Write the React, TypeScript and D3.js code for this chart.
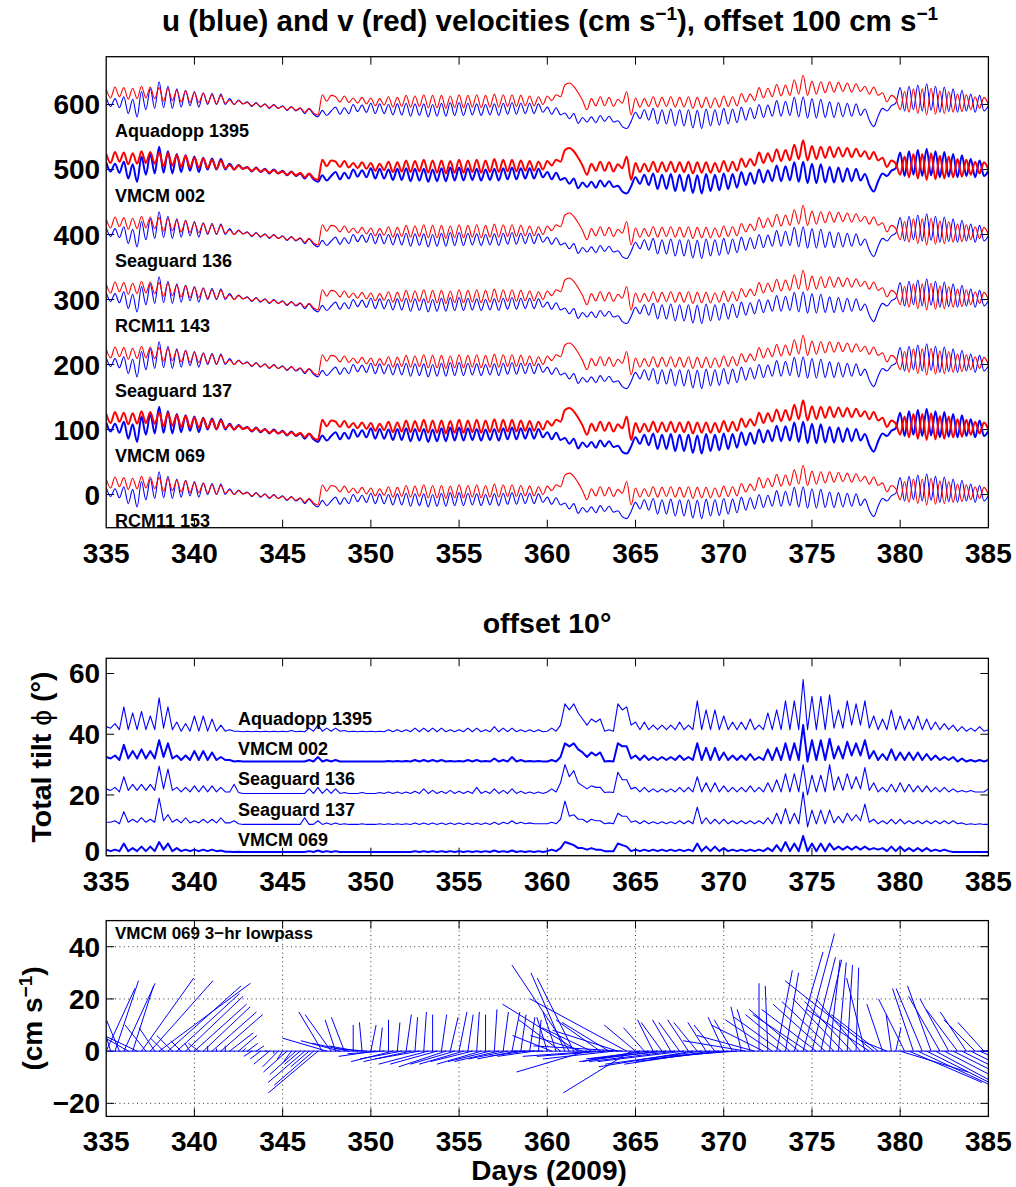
import React from 'react';
import * as d3 from 'd3';

const DAY0 = 335;
const STEP = 0.25;

// u (blue) velocity, cm/s, every 6 h from day 335 to 385
const U = [
  11, -3, 9, -5, 12, -14, 8, -19, 20, -8, 24, -6, 35, -5, 28, -6, 24, -4, 22, -2,
  20, -4, 18, 0, 17, 0, 16, 0, 9, 0, 7, 1, 4, -3, 3, -4, 1, -6, 0, -6,
  -2, -9, -3, -10, -6, -14, -7, -15, -19, -9, -17, -10, -4, -15, -5, -14, 0, -11, -1, -12,
  2, -14, 1, -14, 0, -16, 1, -16, 2, -18, 1, -17, 1, -19, 0, -18, 2, -18, 3, -17,
  3, -17, 2, -16, 1, -17, 0, -16, 1, -17, 2, -15, 3, -15, 2, -14, 2, -14, 1, -12,
  -4, -15, -5, -16, -13, -22, -14, -29, -20, -27, -19, -28, -17, -26, -18, -27, -25, -34, -37, -26,
  -12, -22, -8, -24, -6, -30, -8, -30, -7, -33, -8, -33, -8, -36, -9, -37, -7, -33, -8, -32,
  -6, -30, -7, -28, -4, -24, -5, -22, 0, -20, -1, -18, 6, -18, 5, -17, 11, -19, 12, -21,
  9, -21, 8, -20, 4, -20, 3, -19, 2, -18, 1, -17, -7, -24, -34, -18, -6, -10, -2, 2,
  26, -10, 28, -8, 30, -10, 32, -9, 28, -12, 27, -11, 24, -12, 22, -10, 16, -12, 14, -10,
  -2,
];

// v (red) velocity, cm/s, same times
const V = [
  24, 10, 27, 12, 26, 8, 25, 9, 28, 10, 27, 9, 26, 5, 25, 6, 22, 4, 21, 3,
  18, 3, 17, 2, 15, 1, 14, 2, 7, 0, 6, 1, 3, -2, 2, -3, 0, -5, -1, -6,
  -3, -8, -4, -9, -5, -12, -6, -13, -16, 15, 5, 14, 12, 4, 13, 3, 10, 2, 11, 1,
  10, -2, 9, -1, 12, -4, 11, -3, 14, -4, 13, -3, 15, -5, 14, -5, 14, -6, 13, -5,
  15, -5, 14, -4, 15, -5, 14, -4, 16, -4, 15, -3, 15, -3, 14, -2, 13, -2, 12, 0,
  13, 6, 15, 12, 30, 33, 28, 18, 6, -8, 9, -2, 12, -2, 11, -3, 8, 2, 20, -16,
  10, -4, 9, -3, 12, -4, 11, -3, 12, -4, 11, -4, 12, -6, 11, -5, 11, -5, 10, -4,
  13, -3, 12, -2, 17, 4, 16, 6, 26, 10, 25, 12, 31, 13, 30, 14, 38, 16, 45, 14,
  36, 16, 35, 18, 35, 19, 34, 20, 33, 19, 32, 20, 28, 16, 27, 14, 18, 4, 14, 9,
  -8, 20, -12, 24, -14, 24, -16, 25, -15, 21, -14, 20, -12, 16, -11, 15, -8, 12, -6, 11,
  0,
];

const VEL_NAMES = ['Aquadopp 1395', 'VMCM 002', 'Seaguard 136', 'RCM11 143', 'Seaguard 137', 'VMCM 069', 'RCM11 153'];
const VEL_OFFSETS = [600, 500, 400, 300, 200, 100, 0];
const VEL_HEAVY = [false, true, false, false, false, true, false];

// total tilt (deg), without offset, every 6 h
const TILT_AQUADOPP_1395 = [
  2.5, 2, 3.5, 1.5, 9, 1.5, 7, 1.5, 7.5, 1.5, 6, 1.5, 12, 2, 9, 1.5, 4, 1, 3.5, 1,
  6, 1, 6, 1, 5, 1, 3, 1, 1.5, 1, 1, 0.8, 1, 0.8, 1, 0.8, 1, 0.8, 1, 0.8,
  1, 0.8, 1.2, 0.8, 1, 0.8, 2, 1, 3, 1, 2, 1, 2, 1, 1.2, 0.8, 1, 0.8, 1, 0.8,
  1, 0.8, 1, 0.8, 1.5, 0.8, 1.5, 0.8, 1.5, 0.8, 2, 0.8, 2, 0.8, 2, 0.8, 2, 0.8, 1.5, 0.8,
  1.5, 0.8, 2, 0.8, 2, 0.8, 1.5, 0.8, 2.5, 0.8, 2, 0.8, 2, 0.8, 1.5, 0.8, 1.5, 0.8, 1.5, 0.8,
  1, 2, 1, 3, 10, 8, 10, 7, 5, 3, 5, 4, 5, 1, 1.5, 1, 10, 8, 9, 3,
  4, 1.5, 4, 1.5, 3, 1.5, 3, 1.5, 3, 1.5, 4, 1.5, 3, 1.5, 11, 1.5, 8, 1.5, 8, 1.5,
  6, 1.5, 4, 1.5, 4, 1.5, 5, 1.5, 3, 1.5, 7, 1.5, 8, 1.5, 11, 1.5, 11, 1.5, 18, 1.5,
  12.5, 1.5, 12.5, 1.5, 13, 2, 8, 2, 11, 3, 10, 3, 11, 2, 6, 1.5, 5, 1.5, 8, 1.5,
  6, 1.5, 5, 1.5, 6, 1.5, 5, 1.5, 4, 1.5, 3.5, 1.5, 3, 1, 2.5, 1, 2, 1, 2.5, 1,
  1.5,
];
const TILT_VMCM_002 = [
  2.5, 2, 3, 1.5, 6.5, 2, 4.5, 2, 5, 2, 4.5, 2, 8, 2.5, 7, 2, 3, 1.5, 3, 1.5,
  4.5, 1.5, 4.5, 1.5, 4, 1.5, 2.5, 1.5, 1.5, 1, 1.2, 1, 1, 1, 1, 1, 1, 1, 1, 1,
  1, 1, 1, 1, 1, 1, 1.5, 1, 2.5, 1, 1.5, 1, 1.5, 1, 1, 1, 1, 1, 1, 1,
  1, 1, 1, 1, 1.2, 1, 1.2, 1, 1.2, 1, 1.5, 1, 1.5, 1, 1.5, 1, 1.5, 1, 1.2, 1,
  1.2, 1, 1.5, 1, 1.5, 1, 1.2, 1, 2, 1, 1.5, 1, 2.5, 1, 1.5, 1, 1.2, 1, 1.2, 1,
  1, 1.5, 1, 2.5, 7, 6, 7, 5, 4, 2.5, 4, 3, 4, 1, 1.2, 1, 7, 6, 6, 2,
  3, 1.5, 3, 1.5, 2.5, 1.5, 2.5, 1.5, 2.5, 1.5, 3, 1.5, 2.5, 1.5, 7, 1.5, 5.5, 1.5, 5.5, 1.5,
  4, 1.5, 3, 1.5, 3, 1.5, 3.5, 1.5, 2.5, 1.5, 5, 1.5, 5.5, 1.5, 7, 1.5, 7, 1.5, 13, 1,
  8, 1.5, 8, 1.5, 8.5, 2, 6, 2, 7.5, 3, 7, 3, 8, 2, 4.5, 1.5, 3.5, 1.5, 5, 1.5,
  4, 1.5, 4, 1.5, 4, 1.5, 3.5, 1.5, 3, 1.5, 2.5, 1.5, 2.5, 1, 2, 1, 1.5, 1, 1.5, 1,
  1.5,
];
const TILT_SEAGUARD_136 = [
  2, 1.5, 2.5, 1, 6, 1.5, 3.5, 1.5, 3.5, 1.5, 3.5, 1.5, 9.5, 2, 8.5, 1.5, 2.5, 1, 2.5, 1,
  3, 1, 3, 1, 3, 1, 2.5, 1, 1, 3.5, 0.8, 0.5, 0.5, 0.5, 0.5, 0.5, 0.5, 0.5, 0.5, 0.5,
  0.5, 0.5, 0.5, 0.5, 0.5, 0.5, 2, 0.5, 2.5, 0.5, 2, 0.5, 2, 0.5, 0.8, 0.5, 0.5, 0.5, 0.8, 0.5,
  0.5, 0.5, 0.8, 0.5, 1, 0.5, 1, 0.5, 1, 0.5, 1.2, 0.5, 2, 0.5, 1.5, 0.5, 1.2, 0.5, 1.5, 0.5,
  1.2, 0.5, 1.2, 0.5, 2.5, 0.5, 1.2, 0.5, 2, 0.5, 1.5, 0.5, 2, 0.5, 1.2, 0.5, 1, 0.5, 1, 0.5,
  1, 2, 1, 4, 10, 6, 8, 4, 3, 2, 3, 2.5, 2.5, 0.8, 1, 0.8, 7.5, 5, 5, 2,
  2.5, 1, 2.5, 1, 2, 1, 2, 1, 2, 1, 2.5, 1, 2.5, 1, 6, 1, 4, 1, 4, 1,
  3, 1, 2.5, 1, 2.5, 1, 3, 1, 2.5, 1, 4, 1, 5, 1, 7, 1, 7, 1, 10, 0,
  6.5, 1, 6.5, 1, 10, 1.5, 6, 1.5, 7, 2, 6, 2, 9, 1.5, 4, 1, 2.5, 1, 3.5, 1,
  4, 1, 3.5, 1, 3, 1, 3, 1, 2.5, 1, 2.5, 1, 2, 1, 1.5, 1, 1.5, 1, 1, 1,
  2,
];
const TILT_SEAGUARD_137 = [
  1, 1, 1.5, 0.5, 4.5, 1, 2, 1, 2.5, 1, 2, 1, 9, 1.5, 3.5, 1, 2, 0.8, 2.5, 0.8,
  1.5, 0.8, 2, 0.8, 2, 0.8, 2.5, 0.8, 0.8, 1.5, 0.5, 0.3, 0.3, 0.3, 0.3, 0.3, 0.3, 0.3, 0.3, 0.3,
  0.3, 0.3, 0.3, 0.3, 0.3, 2.5, 0.3, 0.3, 1.5, 0.3, 0.8, 0.3, 0.8, 0.3, 0.5, 0.3, 0.3, 0.3, 0.5, 0.3,
  0.3, 0.3, 0.5, 0.3, 0.5, 0.3, 0.5, 0.3, 0.5, 0.3, 0.8, 0.3, 0.8, 0.3, 0.8, 0.3, 0.8, 0.3, 0.8, 0.3,
  0.8, 0.3, 0.8, 0.3, 0.8, 0.3, 0.8, 0.3, 1, 0.3, 1, 0.5, 1.5, 0.5, 1, 0.5, 0.8, 0.5, 0.5, 0.5,
  0.5, 1, 0.5, 2, 8, 3, 3.5, 2, 2, 1, 2, 1.5, 1.5, 0.5, 0.8, 0.5, 4, 3, 3, 1,
  1.5, 0.5, 1.5, 0.5, 1.2, 0.5, 1.2, 0.5, 1.2, 0.5, 1.5, 0.5, 1.5, 0.5, 6, 0.5, 2.5, 0.5, 2, 0.5,
  2, 0.5, 1.5, 0.5, 1.5, 0.5, 1.5, 0.5, 1.5, 0.5, 2.5, 0.5, 4, 0.5, 5.5, 0.5, 4, 0.5, 11, -0.5,
  5, 0.5, 5, 0.5, 5, 0.8, 3, 0.8, 4, 1.5, 3.5, 1.5, 7, 1, 2, 0.5, 1.5, 0.5, 2, 0.5,
  2, 0.5, 1.5, 0.5, 1.5, 0.5, 1.5, 0.5, 1.5, 0.5, 1.5, 0.5, 1.5, 0.5, 0.8, 0.3, 0.5, 0.3, 0.5, 0.3,
  0.3,
];
const TILT_VMCM_069 = [
  2, 1.5, 2, 1.5, 4, 1.5, 2.5, 1.5, 3, 1.5, 3, 1.5, 4.5, 2, 4, 1.5, 2.5, 1.5, 2, 1.5,
  2, 1.5, 2, 1.5, 2, 1.5, 1.7, 1.3, 1.3, 1.2, 1.3, 1.2, 1.2, 1.2, 1.2, 1.2, 1.2, 1.2, 1.2, 1.2,
  1.2, 1.2, 1.2, 1.2, 1.2, 1.2, 1.5, 1.2, 1.7, 1.2, 1.5, 1.2, 1.5, 1.2, 1.2, 1.2, 1.2, 1.2, 1.2, 1.2,
  1.2, 1.2, 1.2, 1.2, 1.2, 1.2, 1.2, 1.2, 1.2, 1.2, 1.5, 1.2, 1.5, 1.2, 1.5, 1.2, 1.5, 1.2, 1.5, 1.2,
  1.5, 1.2, 1.5, 1.2, 1.5, 1.2, 1.5, 1.2, 1.7, 1.2, 1.5, 1.2, 1.7, 1.2, 1.5, 1.2, 1.5, 1.2, 1.5, 1.2,
  1.5, 2, 1.5, 2.5, 4.5, 4, 3.5, 2.5, 2.5, 2, 2.5, 2, 2, 1.5, 1.5, 1.5, 4, 3.5, 3, 1.5,
  2, 1.5, 2, 1.5, 2, 1.5, 2, 1.5, 2, 1.5, 2, 1.5, 2, 1.5, 4, 1.5, 3, 1.5, 3, 1.5,
  2.5, 1.5, 2, 1.5, 2, 1.5, 2, 1.5, 2, 1.5, 2.5, 1.5, 3.5, 1.5, 4.5, 1.5, 4, 1.5, 6.5, 1.5,
  4, 1.5, 4, 1.5, 4, 2, 3, 2, 3, 2, 3, 2, 3, 2, 2.5, 2, 2.5, 1.5, 3, 1.5,
  3, 1.5, 2.5, 1.5, 2.5, 1.5, 2.5, 1.5, 2, 1.5, 2, 1.5, 1.2, 1.2, 1.2, 1.2, 1.2, 1.2, 1.2, 1.2,
  1.2,
];

const TILT_SERIES = [TILT_AQUADOPP_1395, TILT_VMCM_002, TILT_SEAGUARD_136, TILT_SEAGUARD_137, TILT_VMCM_069];
const TILT_NAMES = ['Aquadopp 1395', 'VMCM 002', 'Seaguard 136', 'Seaguard 137', 'VMCM 069'];
const TILT_OFFSETS = [40, 30, 20, 10, 0];
const TILT_HEAVY = [false, true, false, false, true];

const X_TICKS = [335, 340, 345, 350, 355, 360, 365, 370, 375, 380, 385];
const VEL_TICKS = [0, 100, 200, 300, 400, 500, 600];
const TILT_TICKS = [0, 20, 40, 60];
const STICK_TICKS = [-20, 0, 20, 40];

const FONT = '"Liberation Sans", Arial, Helvetica, sans-serif';
const BLUE = '#0000ff';
const RED = '#ff0000';

const x = d3.scaleLinear().domain([335, 385]).range([106.2, 988.4]);
const y1 = d3.scaleLinear().domain([-51, 673.5]).range([527.7, 56.7]);
const y2 = d3.scaleLinear().domain([0, 65]).range([855.7, 658.3]);
const y3 = d3.scaleLinear().domain([-25, 50]).range([1116.4, 920.6]);

const tOf = (i: number) => DAY0 + i * STEP;

function Frame({ y, yTicks, id, zeroLift }: { y: d3.ScaleLinear<number, number>; yTicks: number[]; id: string; zeroLift?: number }) {
  const [x0, x1] = x.range();
  const [yb, yt] = y.range();
  const tl = 8;
  return (
    <g>
      <defs>
        <clipPath id={id}>
          <rect x={x0} y={yt} width={x1 - x0} height={yb - yt} />
        </clipPath>
      </defs>
      {X_TICKS.slice(1, -1).map((t) => (
        <g key={'xt' + t}>
          <line x1={x(t)} x2={x(t)} y1={yb} y2={yb - tl} stroke="#000" strokeWidth={1} />
          <line x1={x(t)} x2={x(t)} y1={yt} y2={yt + tl} stroke="#000" strokeWidth={1} />
        </g>
      ))}
      {yTicks.map((v) => (
        <g key={'yt' + v}>
          <line x1={x0} x2={x0 + tl} y1={y(v)} y2={y(v)} stroke="#000" strokeWidth={1} />
          <line x1={x1} x2={x1 - tl} y1={y(v)} y2={y(v)} stroke="#000" strokeWidth={1} />
        </g>
      ))}
      {X_TICKS.map((t) => (
        <text key={'xl' + t} x={x(t)} y={yb + 35} textAnchor="middle" fontSize={28} fontWeight="bold" fontFamily={FONT}>
          {t}
        </text>
      ))}
      {yTicks.map((v) => (
        <text key={'yl' + v} x={x0 - 6} y={y(v) + 10 - (v === 0 && zeroLift ? zeroLift : 0)} textAnchor="end" fontSize={28} fontWeight="bold" fontFamily={FONT}>
          {v < 0 ? '\u2212' + Math.abs(v) : v}
        </text>
      ))}
    </g>
  );
}

function Box({ y }: { y: d3.ScaleLinear<number, number> }) {
  const [x0, x1] = x.range();
  const [yb, yt] = y.range();
  return <rect x={x0} y={yt} width={x1 - x0} height={yb - yt} fill="none" stroke="#000" strokeWidth={1.3} />;
}

export default function App() {
  const velLine = (arr: number[], off: number) =>
    d3.line<number>().curve(d3.curveMonotoneX).x((_, i) => x(tOf(i))).y((d) => y1(d + off))(arr) || '';
  const tiltLine = (arr: number[], off: number) =>
    d3.line<number>().x((_, i) => x(tOf(i))).y((d) => y2(d + off))(arr) || '';
  const k = y3(0) - y3(1);

  return (
    <svg width={1016} height={1187} style={{ position: 'absolute', left: 0, top: 0, background: '#fff' }} fontFamily={FONT}>
      <rect x={0} y={0} width={1016} height={1187} fill="#fff" />
      {/* Title */}
      <text x={550} y={31} textAnchor="middle" fontSize={29.5} fontWeight="bold">
        u (blue) and v (red) velocities (cm s<tspan dy={-11} fontSize={19}>{'\u22121'}</tspan>
        <tspan dy={11}>), offset 100 cm s</tspan>
        <tspan dy={-11} fontSize={19}>{'\u22121'}</tspan>
      </text>

      {/* Panel 1 */}
      <Frame y={y1} yTicks={VEL_TICKS} id="clip1" />
      <g clipPath="url(#clip1)">
        {VEL_OFFSETS.map((off, s) => (
          <g key={'vel' + s}>
            <path d={velLine(U, off)} fill="none" stroke={BLUE} strokeWidth={VEL_HEAVY[s] ? 2 : 1.1} strokeLinejoin="round" />
            <path d={velLine(V, off)} fill="none" stroke={RED} strokeWidth={VEL_HEAVY[s] ? 2 : 1.1} strokeLinejoin="round" />
          </g>
        ))}
        {VEL_NAMES.map((n, s) => (
          <text key={n + s} x={115} y={y1(VEL_OFFSETS[s]) + 32.5} fontSize={18} fontWeight="bold">
            {n}
          </text>
        ))}
      </g>
      <Box y={y1} />

      {/* Panel 2 */}
      <text x={547} y={633} textAnchor="middle" fontSize={28.5} fontWeight="bold">
        offset 10°
      </text>
      <Frame y={y2} yTicks={TILT_TICKS} id="clip2" zeroLift={5} />
      <g clipPath="url(#clip2)">
        {TILT_SERIES.map((arr, s) => (
          <path key={'tilt' + s} d={tiltLine(arr, TILT_OFFSETS[s])} fill="none" stroke={BLUE} strokeWidth={TILT_HEAVY[s] ? 2 : 1.1} strokeLinejoin="round" />
        ))}
      </g>
      {TILT_NAMES.map((n, s) => (
        <text key={'tn' + s} x={238} y={y2(TILT_OFFSETS[s]) - 9.5} fontSize={18} fontWeight="bold">
          {n}
        </text>
      ))}
      <Box y={y2} />
      <text transform={`translate(51,${(855.7 + 658.3) / 2}) rotate(-90)`} textAnchor="middle" fontSize={28.5} fontWeight="bold">
        Total tilt <tspan fontWeight="normal">ϕ</tspan> (°)
      </text>

      {/* Panel 3 */}
      <g>
        {X_TICKS.slice(1, -1).map((t) => (
          <line key={'gx' + t} x1={x(t)} x2={x(t)} y1={y3.range()[0]} y2={y3.range()[1]} stroke="#333" strokeWidth={1} strokeDasharray="1 3.4" />
        ))}
        {STICK_TICKS.map((v) => (
          <line key={'gy' + v} x1={x.range()[0]} x2={x.range()[1]} y1={y3(v)} y2={y3(v)} stroke="#333" strokeWidth={1} strokeDasharray="1 3.4" />
        ))}
      </g>
      <Frame y={y3} yTicks={STICK_TICKS} id="clip3" />
      <g clipPath="url(#clip3)">
        <line x1={x(335)} x2={x(385)} y1={y3(0)} y2={y3(0)} stroke={BLUE} strokeWidth={1} />
        {U.map((u, i) => (
          <line key={'st' + i} x1={x(tOf(i))} y1={y3(0)} x2={x(tOf(i)) + u * k} y2={y3(V[i])} stroke={BLUE} strokeWidth={1} />
        ))}
      </g>
      <Box y={y3} />
      <text x={115} y={939} fontSize={17} fontWeight="bold">
        VMCM 069 3−hr lowpass
      </text>
      <text transform={`translate(42,${(1116.4 + 920.6) / 2}) rotate(-90)`} textAnchor="middle" fontSize={28} fontWeight="bold">
        (cm s<tspan dy={-10} fontSize={19}>{'\u22121'}</tspan>
        <tspan dy={10}>)</tspan>
      </text>
      <text x={549} y={1180} textAnchor="middle" fontSize={28} fontWeight="bold">
        Days (2009)
      </text>
    </svg>
  );
}
